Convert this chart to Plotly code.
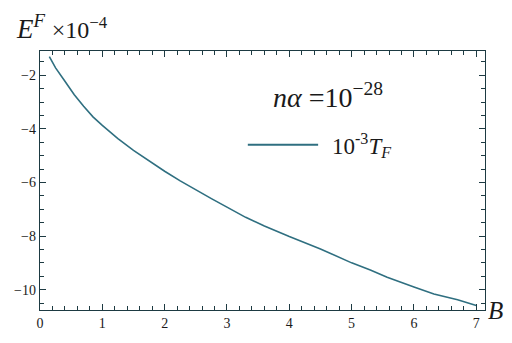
import plotly.graph_objects as go

# Data
B_vals = [0.15, 0.25, 0.4, 0.55, 0.7, 0.85, 1.0, 1.25, 1.5, 1.75, 2.0, 2.25, 2.5, 2.75,
          3.0, 3.3, 3.6, 4.0, 4.5, 5.0, 5.3, 5.57, 6.0, 6.32, 6.7, 7.0]
E_vals = [-1.3, -1.72, -2.22, -2.72, -3.15, -3.55, -3.87, -4.36, -4.8, -5.2, -5.58, -5.94,
          -6.28, -6.6, -6.92, -7.3, -7.62, -8.02, -8.48, -9.0, -9.27, -9.54, -9.9, -10.16,
          -10.38, -10.59]
x_ticks = [0, 1, 2, 3, 4, 5, 6, 7]
y_ticks = [-10, -8, -6, -4, -2]
y_ticklabels = ["\u221210", "\u22128", "\u22126", "\u22124", "\u22122"]

AX = "#1d3a42"
TXT = "#1a1a1a"
LINE = "#2f6f80"
SERIF = "Liberation Serif, Times New Roman, DejaVu Serif, serif"

fig = go.Figure()
fig.add_trace(go.Scatter(x=B_vals, y=E_vals, mode="lines",
                         line=dict(color=LINE, width=1.6), showlegend=False))

fig.update_xaxes(range=[0, 7.14], tickmode="array", tickvals=x_ticks,
                 ticktext=[str(v) for v in x_ticks],
                 showgrid=False, zeroline=False, showline=True, linecolor=AX, linewidth=1.4,
                 mirror="allticks", ticks="inside", ticklen=6, tickwidth=1.4, tickcolor=AX,
                 tickfont=dict(family=SERIF, size=14, color=TXT),
                 minor=dict(dtick=0.2, tick0=0, ticks="inside", ticklen=3.5, tickcolor=AX,
                            tickwidth=1.1, showgrid=False))
fig.update_yaxes(range=[-10.76, -1.09], tickmode="array", tickvals=y_ticks,
                 ticktext=y_ticklabels,
                 showgrid=False, zeroline=False, showline=True, linecolor=AX, linewidth=1.4,
                 mirror="allticks", ticks="inside", ticklen=6, tickwidth=1.4, tickcolor=AX,
                 tickfont=dict(family=SERIF, size=14, color=TXT),
                 minor=dict(dtick=0.5, tick0=0, ticks="inside", ticklen=3.5, tickcolor=AX,
                            tickwidth=1.1, showgrid=False))

fig.update_layout(
    width=512, height=343,
    margin=dict(l=40, r=27, t=51, b=18),
    plot_bgcolor="white", paper_bgcolor="white",
    font=dict(family=SERIF, color=TXT),
)

# axis titles
fig.add_annotation(xref="paper", yref="paper", x=-0.058, y=1.02, xanchor="left", yanchor="bottom",
                   showarrow=False,
                   text="<i>E</i><sup><i>F</i></sup> <span style='font-size:24px'>\u00d710<sup>\u22124</sup></span>",
                   font=dict(family=SERIF, size=27, color=TXT))
fig.add_annotation(xref="paper", yref="paper", x=1.003, y=0.0, xanchor="left", yanchor="middle",
                   showarrow=False, text="<i>B</i>", font=dict(family=SERIF, size=25, color=TXT))

# parameter label
fig.add_annotation(xref="paper", yref="paper", x=0.52, y=0.83, xanchor="left", yanchor="middle",
                   showarrow=False, text="<i>n\u03b1</i> =10<sup>\u221228</sup>",
                   font=dict(family=SERIF, size=28, color=TXT))
# legend sample
fig.add_shape(type="line", xref="paper", yref="paper", x0=0.467, x1=0.625, y0=0.638, y1=0.638,
              line=dict(color=LINE, width=2))
fig.add_annotation(xref="paper", yref="paper", x=0.652, y=0.635, xanchor="left", yanchor="middle",
                   showarrow=False, text="10<sup>-3</sup><i>T<sub>F</sub></i>",
                   font=dict(family=SERIF, size=23, color=TXT))

fig.write_html("out.html", config={"displayModeBar": False},
               post_script="document.body.style.margin='0';")
